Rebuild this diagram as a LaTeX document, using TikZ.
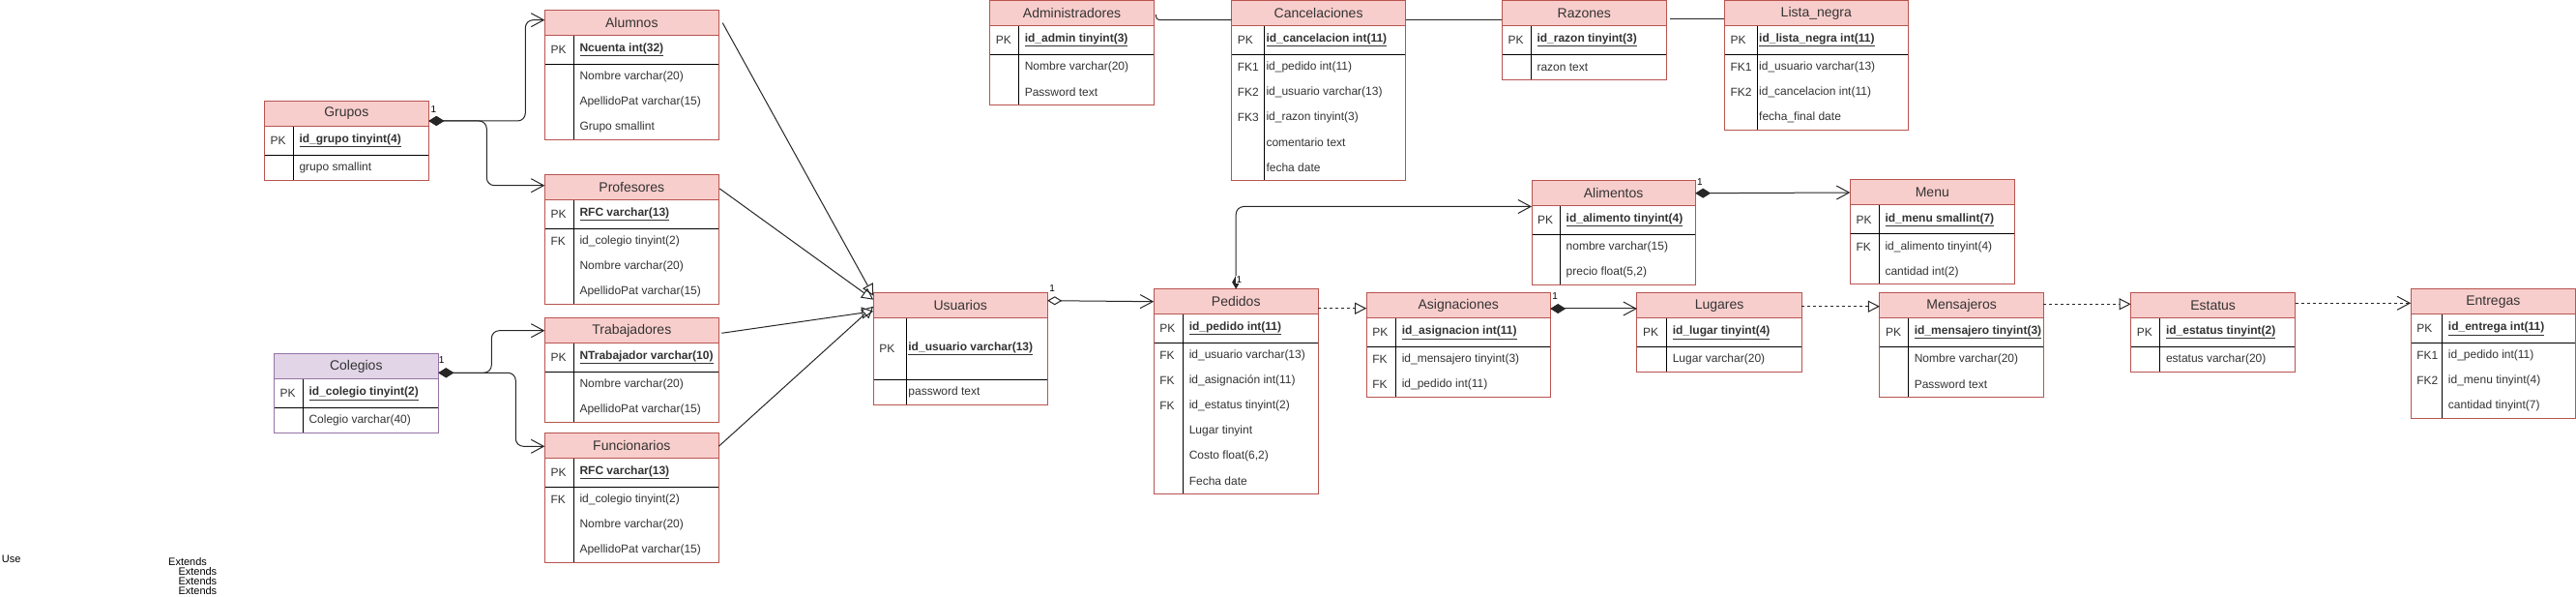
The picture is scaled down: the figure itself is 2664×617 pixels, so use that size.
\documentclass[tikz,border=0pt]{standalone}
\usepackage{fontspec}
\setmainfont{Liberation Sans}
\usetikzlibrary{arrows.meta}
\definecolor{hfill}{HTML}{F8CECC}
\definecolor{hdraw}{HTML}{B85450}
\definecolor{pfill}{HTML}{E1D5E7}
\definecolor{pdraw}{HTML}{9673A6}
\definecolor{txt}{HTML}{333333}
\def\erfill{hfill}
\def\erdraw{hdraw}
\def\erpad{6}
\def\erdash{-}
\tikzset{
  tabbox/.style={anchor=north west, inner sep=0pt, outer sep=0pt, fill=white, draw=none},
  hdr/.style={anchor=north west, inner sep=0pt, outer sep=0pt, minimum height=26pt, font=\fontsize{14}{16}\selectfont, text=txt},
  cell/.style={anchor=west, inner sep=0pt, font=\fontsize{12}{14}\selectfont, text=txt},
  sep/.style={draw=black, line width=1pt},
  edge/.style={draw=black!85, line width=1pt},
  compo/.style={edge, {Diamond[length=16pt,width=10pt]}-{Straight Barb[length=13pt,width=14pt]}},
  aggr/.style={edge, {Diamond[open,length=15pt,width=9pt]}-{Straight Barb[length=13pt,width=14pt]}},
  inh/.style={edge, -{Triangle[open,length=12pt,width=12pt]}},
  dep/.style={edge, dash pattern=on 3pt off 3pt, -{Triangle[open,length=12pt,width=12pt]}},
  depopen/.style={edge, dash pattern=on 3pt off 3pt, -{Straight Barb[length=13pt,width=14pt]}},
  lbl/.style={inner sep=0.5pt, font=\fontsize{10}{12}\selectfont, text=black},
  note/.style={anchor=west, inner sep=0pt, font=\fontsize{11}{12}\selectfont, text=black}
}
% #1 pk row height, #2 name, #3 x, #4 y, #5 width, #6 key col width, #7 title, #8 pk text, #9 rows
\newcommand\ertab[9][30]{%
  \pgfmathsetmacro\erX{#3}%
  \pgfmathsetmacro\erY{#4}%
  \pgfmathsetmacro\erW{#5}%
  \pgfmathsetmacro\erK{#6}%
  \pgfmathsetmacro\erHB{\erY+26}%
  \pgfmathsetmacro\erPB{\erHB+#1}%
  \gdef\erN{0}%
  \foreach \k/\t in {#9}{\pgfmathtruncatemacro\erT{\erN+1}\xdef\erN{\erT}}%
  \pgfmathsetmacro\erB{\erPB+26*\erN}%
  \pgfmathsetmacro\erH{\erB-\erY}%
  \pgfmathsetmacro\erPM{(\erHB+\erPB)/2}%
  \node[tabbox, minimum width=\erW pt, minimum height=\erH pt] (#2) at (\erX,\erY) {};
  \node[hdr, fill=\erfill, minimum width=\erW pt] (#2-h) at (\erX,\erY) {#7};
  \draw[sep] (\erX,\erPB) -- ++(\erW,0);
  \draw[sep] (\erX+\erK,\erHB) -- (\erX+\erK,\erB);
  \draw[\erdraw, line width=1pt] (\erX,\erHB) -- ++(\erW,0);
  \draw[\erdraw, line width=1pt] (\erX,\erY) rectangle (\erX+\erW,\erB);
  \node[cell] (#2-pkk) at (\erX+6,\erPM) {PK};
  \node[cell] (#2-pk) at (\erX+\erK+\erpad,\erPM) {\underline{\textbf{#8}}};
  \foreach \k/\t [count=\i] in {#9}{%
    \pgfmathsetmacro\erRY{\erPB+26*\i-13}%
    \node[cell] (#2-a\i) at (\erX+\erK+\erpad,\erRY) {\t};
    \edef\erkk{\k}\ifx\erkk\erdash\else\node[cell] (#2-k\i) at (\erX+6,\erRY) {\k};\fi
  }%
}
\begin{document}
\begin{tikzpicture}[x=1pt,y=-1pt]
\useasboundingbox (0,0) rectangle (2664,617);

% ---------- tables ----------
\ertab{grupos}{273.3}{104.3}{170}{30}{Grupos}{id\_grupo tinyint(4)}{-/grupo smallint}
\ertab{alumnos}{563.3}{10.7}{180}{30}{Alumnos}{Ncuenta int(32)}{-/Nombre varchar(20),-/ApellidoPat varchar(15),-/Grupo smallint}
\ertab{profesores}{563.3}{180.3}{180}{30}{Profesores}{RFC varchar(13)}{FK/id\_colegio tinyint(2),-/Nombre varchar(20),-/ApellidoPat varchar(15)}
\ertab{trabajadores}{563.3}{328.7}{180}{30}{Trabajadores}{NTrabajador varchar(10)}{-/Nombre varchar(20),-/ApellidoPat varchar(15)}
\ertab{funcionarios}{563.3}{447.3}{180}{30}{Funcionarios}{RFC varchar(13)}{FK/id\_colegio tinyint(2),-/Nombre varchar(20),-/ApellidoPat varchar(15)}
{\def\erfill{pfill}\def\erdraw{pdraw}%
\ertab{colegios}{283.3}{365.7}{170}{30}{Colegios}{id\_colegio tinyint(2)}{-/Colegio varchar(40)}}
{\def\erpad{2}%
\ertab[63.6]{usuarios}{903.2}{302.7}{180}{34}{Usuarios}{id\_usuario varchar(13)}{-/password text}}
\ertab{pedidos}{1193.2}{298.7}{170}{30.4}{Pedidos}{id\_pedido int(11)}{FK/id\_usuario varchar(13),FK/id\_asignación int(11),FK/id\_estatus tinyint(2),-/Lugar tinyint,{-/Costo float(6,2)},-/Fecha date}
\ertab{asignaciones}{1413.2}{302.7}{190}{30.4}{Asignaciones}{id\_asignacion int(11)}{FK/id\_mensajero tinyint(3),FK/id\_pedido int(11)}
\ertab{lugares}{1692.9}{302.7}{170.3}{30.7}{Lugares}{id\_lugar tinyint(4)}{-/Lugar varchar(20)}
\ertab{mensajeros}{1943.9}{302.7}{169.5}{29.7}{Mensajeros}{id\_mensajero tinyint(3)}{-/Nombre varchar(20),-/Password text}
\ertab{estatus}{2203.6}{302.7}{170}{30.2}{Estatus}{id\_estatus tinyint(2)}{-/estatus varchar(20)}
\ertab{entregas}{2493.1}{298.7}{170.4}{32.6}{Entregas}{id\_entrega int(11)}{FK1/id\_pedido int(11),FK2/id\_menu tinyint(4),-/cantidad tinyint(7)}
\ertab{alimentos}{1584}{186.7}{169.2}{29.5}{Alimentos}{id\_alimento tinyint(4)}{-/nombre varchar(15),{-/precio float(5,2)}}
\ertab{menu}{1913.3}{186}{170}{30}{Menu}{id\_menu smallint(7)}{FK/id\_alimento tinyint(4),-/cantidad int(2)}
\ertab{administradores}{1023.7}{0.5}{169.6}{29.9}{Administradores}{id\_admin tinyint(3)}{-/Nombre varchar(20),-/Password text}
{\def\erpad{2}%
\ertab{cancelaciones}{1273.6}{0.5}{180}{33.7}{Cancelaciones}{id\_cancelacion int(11)}{FK1/id\_pedido int(11),FK2/id\_usuario varchar(13),FK3/id\_razon tinyint(3),-/comentario text,-/fecha date}}
\ertab{razones}{1553.3}{0.5}{170}{30}{Razones}{id\_razon tinyint(3)}{-/razon text}
{\def\erpad{2}%
\ertab{listanegra}{1783.3}{0.5}{190}{33.7}{Lista\_negra}{id\_lista\_negra int(11)}{FK1/id\_usuario varchar(13),FK2/id\_cancelacion int(11),-/fecha\_final date}}

% ---------- connectors ----------
\draw[compo, rounded corners=8pt] ([yshift=-7.7pt]grupos-h.east) -- ++(100,0) |- ([yshift=3pt]alumnos-h.west);
\draw[compo, rounded corners=8pt] ([yshift=-7.7pt]grupos-h.east) -- ++(60,0) |- ([yshift=1.6pt]profesores-h.west);
\draw[compo, rounded corners=8pt] ([yshift=-6.6pt]colegios-h.east) -- ++(55,0) |- (trabajadores-h.west);
\draw[compo, rounded corners=8pt] ([yshift=-6.6pt]colegios-h.east) -- ++(80,0) |- ([yshift=-1pt]funcionarios-h.west);

\draw[inh] ([xshift=4pt]alumnos-h.east) -- ([yshift=10pt]usuarios-h.west);
\draw[inh] ([xshift=1pt,yshift=-1.7pt]profesores-h.east) -- ([yshift=6pt]usuarios-h.west);
\draw[inh] ([xshift=3pt,yshift=-2.6pt]trabajadores-h.east) -- ([yshift=-6pt]usuarios-h.west);
\draw[inh] ([yshift=-1pt]funcionarios-h.east) -- ([yshift=-1pt]usuarios-h.west);

\draw[aggr] ([yshift=5pt]usuarios-h.east) -- (pedidos-h.west);
\draw[dep] ([yshift=-7pt]pedidos-h.east) -- ([yshift=-3pt]asignaciones-h.west);
\draw[compo] ([yshift=-3.3pt]asignaciones-h.east) -- ([yshift=-3.3pt]lugares-h.west);
\draw[dep] ([yshift=-1pt]lugares-h.east) -- ([yshift=-1pt]mensajeros-h.west);
\draw[dep] ([yshift=1.4pt]mensajeros-h.east) -- ([yshift=1.4pt]estatus-h.west);
\draw[depopen] ([yshift=2.4pt]estatus-h.east) -- ([yshift=-1.6pt]entregas-h.west);
\draw[compo] (alimentos-h.east) -- (menu-h.west);
\draw[edge, rounded corners=8pt, {Diamond[length=14pt,width=8pt]}-{Straight Barb[length=13pt,width=14pt]}] (pedidos-h.north) |- ([yshift=-13.8pt]alimentos-h.west);

\draw[edge, rounded corners=4pt] ([xshift=2pt,yshift=-1.5pt]administradores-h.east) |- ([yshift=-7.2pt]cancelaciones-h.west);
\draw[edge] ([yshift=-7.2pt]cancelaciones-h.east) -- ([yshift=-7.2pt]razones-h.west);
\draw[edge] ([xshift=4pt,yshift=-5.8pt]razones-h.east) -- ([yshift=-5.8pt]listanegra-h.west);

% ---------- multiplicity labels ----------
\node[lbl] (m1) at (448.3,113.3) {1};
\node[lbl] (m2) at (456.7,372) {1};
\node[lbl] (m3) at (1088.2,298.3) {1};
\node[lbl, fill=white] (m4) at (1281.5,289.3) {1};
\node[lbl] (m5) at (1758,188.3) {1};
\node[lbl] (m6) at (1608.2,306) {1};

% ---------- loose texts ----------
\node[note] (use) at (1.7,577.3) {Use};
\node[note] (ext1) at (174,580.7) {Extends};
\node[note] (ext2) at (184.3,590.7) {Extends};
\node[note] (ext3) at (184.3,600.3) {Extends};
\node[note] (ext4) at (184.3,610.3) {Extends};
\end{tikzpicture}
\end{document}
